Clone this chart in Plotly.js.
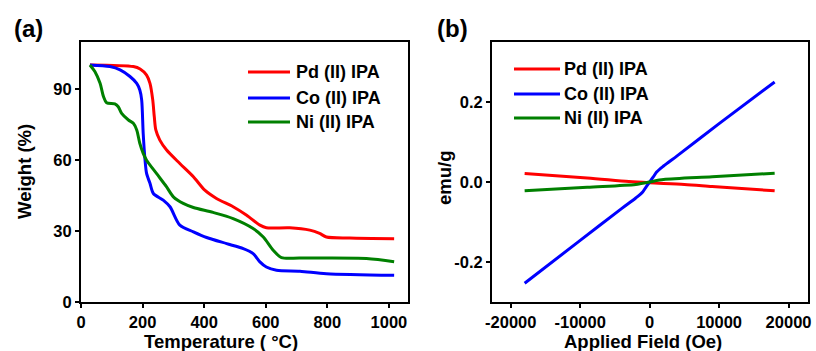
<!DOCTYPE html>
<html><head><meta charset="utf-8">
<script src="https://cdn.plot.ly/plotly-3.0.1.min.js"></script>
<style>html,body{margin:0;padding:0;background:#fff}#c{width:816px;height:351px}</style>
</head><body><div id="c"></div>
<script>
// Panel (a): TGA
const seriesNames = ["Pd (II) IPA", "Co (II) IPA", "Ni (II) IPA"];
const colors = ["#ff0000", "#0000ff", "#008000"];

const pdTemp = [29, 170, 192, 213, 224, 233, 238, 243, 256, 278, 321, 365, 402, 440, 494, 538, 581, 602, 678, 743, 775, 797, 873, 1017];
const pdWeight = [100.3, 99.6, 98.6, 96, 92.5, 85.5, 78.4, 72.8, 68.5, 64.3, 58.6, 53, 47.3, 43.8, 40.3, 36.7, 32.5, 31.4, 31.4, 30.4, 29, 27.5, 27.1, 26.8];

const coTemp = [29, 94, 127, 159, 181, 191, 197, 202, 208, 213, 224, 235, 267, 289, 321, 365, 408, 473, 527, 559, 581, 602, 635, 711, 797, 1017];
const coWeight = [100.3, 99.6, 98.2, 95.4, 92.5, 89.7, 85.5, 71.3, 60, 54.4, 50.2, 45.9, 43.1, 40.3, 32.5, 29.7, 27.3, 24.7, 22.6, 20.5, 17, 14.8, 13.4, 13, 12, 11.3];

const niTemp = [29, 45, 62, 73, 83, 110, 121, 132, 154, 170, 181, 191, 202, 213, 245, 278, 300, 332, 365, 429, 494, 559, 592, 624, 651, 711, 927, 1017];
const niWeight = [100.3, 97.5, 92.5, 86.9, 84.3, 83.8, 82.6, 79.8, 77, 75.6, 72.8, 67.1, 62.9, 60, 54.4, 48.7, 44.5, 41.7, 40, 37.9, 35.3, 31.1, 27.5, 21.9, 18.8, 18.6, 18.4, 17];

// Panel (b): magnetization
const pdField = [-18000, -9000, -3000, 0, 5000, 9000, 18000];
const pdEmu = [0.021, 0.010, 0.001, -0.002, -0.006, -0.011, -0.022];

const coField = [-18000, -10000, -4000, -2000, -1000, -500, 0, 500, 1000, 2000, 4000, 10000, 18000];
const coEmu = [-0.253, -0.146, -0.066, -0.040, -0.025, -0.012, 0, 0.012, 0.025, 0.040, 0.066, 0.146, 0.250];

const niField = [-18000, -9000, -2000, 0, 2000, 9000, 18000];
const niEmu = [-0.022, -0.013, -0.006, 0, 0.006, 0.013, 0.022];

const xTicksA = [0, 200, 400, 600, 800, 1000];
const yTicksA = [0, 30, 60, 90];
const xTicksB = [-20000, -10000, 0, 10000, 20000];
const xTickTextB = ["-20000", "-10000", "0", "10000", "20000"];
const yTicksB = [-0.2, 0.0, 0.2];
const yTickTextB = ["-0.2", "0.0", "0.2"];

const titleA = {x: "Temperature ( \u00B0C)", y: "Weight (%)"};
const titleB = {x: "Applied Field (Oe)", y: "emu/g"};
const panelLabels = ["(a)", "(b)"];

const F = "Liberation Sans, Arial, sans-serif";
const tickFont = {family: F, size: 16.5, color: "#000", weight: "bold"};
const titleFont = {family: F, size: 18.5, color: "#000", weight: "bold"};
const legFont = {family: F, size: 18, color: "#000", weight: "bold"};
const lineW = 3;
const W = 816, H = 351;
const px = v => v / W, py = v => 1 - v / H;

const traces = [];
const specs = [
  [pdTemp, pdWeight, 0, "x", "y"], [coTemp, coWeight, 1, "x", "y"], [niTemp, niWeight, 2, "x", "y"],
  [pdField, pdEmu, 0, "x2", "y2"], [coField, coEmu, 1, "x2", "y2"], [niField, niEmu, 2, "x2", "y2"]
];
specs.forEach(s => traces.push({type: "scatter", mode: "lines", x: s[0], y: s[1], name: seriesNames[s[2]],
  line: {color: colors[s[2]], width: lineW, shape: "spline", smoothing: 0.8}, xaxis: s[3], yaxis: s[4], showlegend: false}));

const axBase = {showline: true, linecolor: "#000", linewidth: 2, mirror: true, ticks: "outside", ticklen: 4, tickwidth: 2, tickcolor: "#000", showgrid: false, zeroline: false, tickfont: tickFont, automargin: false, ticklabelstandoff: 0};
const yDom = [1 - 302/H, 1 - 42/H];

// legend drawn as keys + labels in paper coordinates
const shapes = [], annotations = [];
const legA = {x0: 248, x1: 290, tx: 294, ys: [72, 98, 122]};
const legB = {x0: 514, x1: 560, tx: 562, ys: [69, 94, 118]};
[legA, legB].forEach(L => {
  seriesNames.forEach((n, i) => {
    shapes.push({type: "line", xref: "paper", yref: "paper", x0: px(L.x0), x1: px(L.x1), y0: py(L.ys[i]), y1: py(L.ys[i]), line: {color: colors[i], width: lineW}});
    annotations.push({text: n, xref: "paper", yref: "paper", x: px(L.tx), y: py(L.ys[i]), xanchor: "left", yanchor: "middle", showarrow: false, font: legFont});
  });
});
annotations.push(
  {text: panelLabels[0], xref: "paper", yref: "paper", x: px(12), y: py(29), xanchor: "left", yanchor: "middle", showarrow: false, font: {family: F, size: 24, color: "#000", weight: "bold"}},
  {text: panelLabels[1], xref: "paper", yref: "paper", x: px(435), y: py(29), xanchor: "left", yanchor: "middle", showarrow: false, font: {family: F, size: 24, color: "#000", weight: "bold"}},
  {text: titleA.x, xref: "paper", yref: "paper", x: px(221), y: 0, xanchor: "center", yanchor: "bottom", yshift: -3, showarrow: false, font: titleFont},
  {text: titleA.y, xref: "paper", yref: "paper", x: px(24), y: py(172), xanchor: "center", yanchor: "middle", textangle: -90, showarrow: false, font: titleFont},
  {text: titleB.x, xref: "paper", yref: "paper", x: px(643), y: 0, xanchor: "center", yanchor: "bottom", yshift: -3, showarrow: false, font: titleFont},
  {text: titleB.y, xref: "paper", yref: "paper", x: px(444), y: py(178), xanchor: "center", yanchor: "middle", textangle: -90, showarrow: false, font: titleFont}
);

const layout = {
  width: W, height: H,
  margin: {l: 0, r: 0, t: 0, b: 0},
  paper_bgcolor: "#fff", plot_bgcolor: "#fff",
  showlegend: false,
  xaxis: Object.assign({}, axBase, {domain: [81/W, 408/W], range: [0, 1062], tickvals: xTicksA, anchor: "y"}),
  yaxis: Object.assign({}, axBase, {domain: yDom, range: [0, 110], tickvals: yTicksA, anchor: "x"}),
  xaxis2: Object.assign({}, axBase, {domain: [492/W, 808/W], range: [-22700, 22800], tickvals: xTicksB, ticktext: xTickTextB, anchor: "y2"}),
  yaxis2: Object.assign({}, axBase, {domain: yDom, range: [-0.3, 0.35], tickvals: yTicksB, ticktext: yTickTextB, anchor: "x2"}),
  shapes: shapes,
  annotations: annotations
};

Plotly.newPlot("c", traces, layout, {staticPlot: true, displayModeBar: false});
</script>
</body></html>
